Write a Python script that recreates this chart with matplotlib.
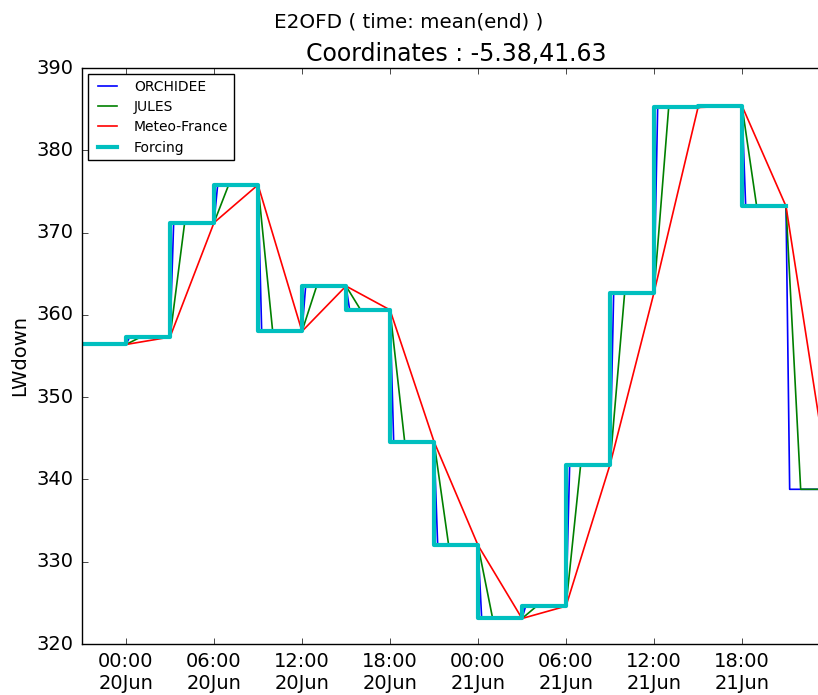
import numpy as np
import pandas as pd
import matplotlib
matplotlib.use('Agg')
import matplotlib.pyplot as plt
import matplotlib.dates as mdates

plt.style.use('classic')

# 3-hourly LWdown values, stamped at the end of each 3h interval
times = pd.date_range('2000-06-19 21:00', '2000-06-22 00:00', freq='3h')
lwdown = [356.4, 356.4, 357.3, 371.2, 375.8, 358.0, 363.5, 360.6, 344.6,
          332.0, 323.1, 324.6, 341.8, 362.7, 385.2, 385.4, 373.2, 338.8]

# forcing stops at 21:00 21Jun
n_forcing = 17

# how long each model takes to reach the new forcing value (hours)
orchidee_lag = 0.25
jules_lag = 1.0

# labelled ticks: every 6h from 00:00 20Jun to 18:00 21Jun
tick_times = pd.date_range('2000-06-20 00:00', '2000-06-21 18:00', freq='6h')


def ramped(t, v, lag_h):
    # piecewise-linear line: hold value, then reach next one after lag
    lag = pd.Timedelta(hours=lag_h)
    xs = [t[0]]
    ys = [v[0]]
    for i in range(1, len(t)):
        xs += [t[i - 1] + lag, t[i]]
        ys += [v[i], v[i]]
    return xs, ys


fig = plt.figure(figsize=(8.18, 6.95), dpi=100, facecolor='white')
ax = fig.add_axes([82 / 818, 51 / 695, 748 / 818, 576 / 695])

x, y = ramped(times, lwdown, orchidee_lag)
ax.plot(x, y, color='b', lw=1.2, label='ORCHIDEE')
x, y = ramped(times, lwdown, jules_lag)
ax.plot(x, y, color='g', lw=1.2, label='JULES')
ax.plot(times, lwdown, color='r', lw=1.2, label='Meteo-France')
ax.plot(times[:n_forcing], lwdown[:n_forcing], color='c', lw=3,
        drawstyle='steps-pre', label='Forcing')

ax.set_xlim(times[0], times[-1])
ax.set_ylim(320, 390)
ax.set_xticks(tick_times)
ax.xaxis.set_major_formatter(mdates.DateFormatter('%H:%M\n%d%b'))
ax.tick_params(labelsize=14, pad=6)
ax.set_ylabel('LWdown', fontsize=14)
ax.set_title('Coordinates : -5.38,41.63', fontsize=17, y=1.0)
fig.suptitle('E2OFD ( time: mean(end) )', fontsize=14.3, y=0.982)

leg = ax.legend(loc='upper left', fontsize=10, borderaxespad=0.45,
                handlelength=2.0, handletextpad=0.9, labelspacing=0.45,
                borderpad=0.4)

fig.savefig('out.png', dpi=100, facecolor='white')
